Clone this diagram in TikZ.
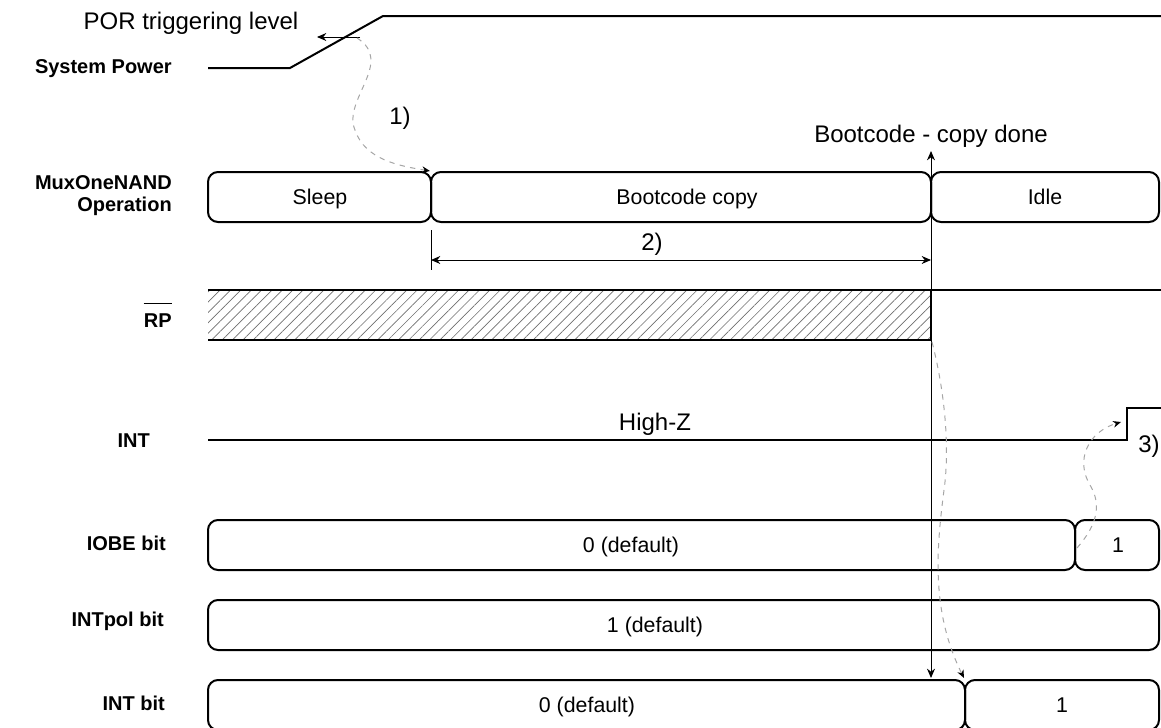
\documentclass[tikz,border=0pt]{standalone}
\usepackage{fontspec}
\setmainfont{Liberation Sans}
\usepackage{tikz}
\usetikzlibrary{arrows.meta,patterns.meta}
\definecolor{dashgrey}{HTML}{A6A6A6}
\definecolor{hatchgrey}{HTML}{6E6E6E}

\begin{document}
\begin{tikzpicture}[x=0.75pt,y=-0.75pt,
    sig/.style={line width=1.5pt, black},
    seg/.style={draw, line width=1.5pt, rounded corners=7.5pt},
    txt/.style={inner sep=0pt, anchor=base, font=\fontsize{16}{17}\selectfont},
    note/.style={inner sep=0pt, anchor=base, font=\fontsize{18}{19}\selectfont},
    lbl/.style={inner sep=0pt, anchor=base east, align=right,
                font=\fontsize{15}{16.5}\selectfont\bfseries},
    fine/.style={line width=0.75pt, black},
    hop/.style={draw=dashgrey, line width=0.75pt, dash pattern=on 4pt off 4pt,
                -{Stealth[black, length=6pt, width=5pt]}}]

  \useasboundingbox (0,0) rectangle (1161,728);

  % -- signal names, left column --
  \foreach \x/\y/\s/\n in {172/73/System Power/lpow, 150/447/INT/lint,
      166/550/IOBE bit/liobe, 164/626/INTpol bit/lpol, 165/710/INT bit/lintb}{
    \node[lbl] (\n) at (\x,\y) {\s};}
  \node[lbl, anchor=east] (lmux) at (172,196) {MuxOneNAND\\Operation};
  \node[lbl] (lrp) at (172,327) {RP};
  \draw[line width=1.2pt] ([yshift=7pt]lrp.north west) -- ([yshift=7pt]lrp.north east);

  % -- system power ramp and the POR level --
  \draw[sig] (208,68) -- (290,68) -- (383,16) -- (1161,16);
  \node[note] (porlbl) at (191,30) {POR triggering level};
  \coordinate (por0) at (360,37);
  \coordinate (por1) at (317,37);
  \draw[fine, -{Stealth[length=7pt, width=6pt]}] (por0) -- (por1);

  % -- rounded state boxes: x from / x to / top / text x / text / name
  \foreach \a/\b/\y/\t/\s/\n in {
      208/431/172/320/Sleep/sleep,
      431/931/172/687/Bootcode copy/boot,
      931/1159/172/1045/Idle/idle,
      208/1075/520/631/0 (default)/iobe0,
      1075/1159/520/1118/1/iobe1,
      208/1159/600/655/1 (default)/pol1,
      208/965/680/587/0 (default)/intb0,
      965/1159/680/1062/1/intb1}{
    \draw[seg] (\a,\y) rectangle (\b,\y+50);
    \node[txt] (\n) at (\t,\y+32) {\s};}

  % -- 2) copy time --
  \coordinate (t2a) at (431,260);
  \coordinate (t2b) at (931,260);
  \draw[fine] (431,230) -- (431,270);
  \draw[fine, {Stealth[length=7pt, width=6pt]}-{Stealth[length=7pt, width=6pt]}] (t2a) -- (t2b);
  \node[note] (lbl2) at (652,250) {2)};

  % -- RP: don't care until the copy is done, then high --
  \fill[pattern={Lines[angle=45, distance=5.5pt, line width=0.5pt]}, pattern color=hatchgrey]
    (208,290) rectangle (931,340);
  \draw[sig] (208,290) -- (1161,290);
  \draw[sig] (208,340) -- (931,340) -- (931,290);

  % -- INT stays high-Z, then goes up --
  \draw[sig] (208,440) -- (1127,440) -- (1127,408) -- (1161,408);
  \node[note] (hiz) at (655,430) {High-Z};
  \node[note] (lbl3) at (1149,452) {3)};

  % -- copy done marker, through every row
  \node[note] (bcdone) at (931,142) {Bootcode - copy done};
  \coordinate (done0) at (931,151);
  \coordinate (done1) at (931,678);
  \draw[fine, {Stealth[length=7pt, width=6pt]}-{Stealth[length=7pt, width=6pt]}] (done0) -- (done1);

  % -- dashed cause/effect hops 1), RP -> INT bit, 3)
  \node[note] (lbl1) at (400,124) {1)};
  \coordinate (h1a) at (357,38);
  \coordinate (h1b) at (430,171);
  \draw[hop] (h1a) .. controls (395,62) and (342,100) .. (355,130)
                   .. controls (365,160) and (400,166) .. (h1b);
  \coordinate (h2a) at (932,342);
  \coordinate (h2b) at (964,678);
  \draw[hop] (h2a) .. controls (942,380) and (951,440) .. (944,490)
                   .. controls (937,545) and (930,610) .. (h2b);
  \coordinate (h3a) at (1077,548);
  \coordinate (h3b) at (1121,422);
  \draw[hop] (h3a) .. controls (1097,525) and (1102,505) .. (1090,485)
                   .. controls (1075,460) and (1088,432) .. (h3b);
\end{tikzpicture}
\end{document}
